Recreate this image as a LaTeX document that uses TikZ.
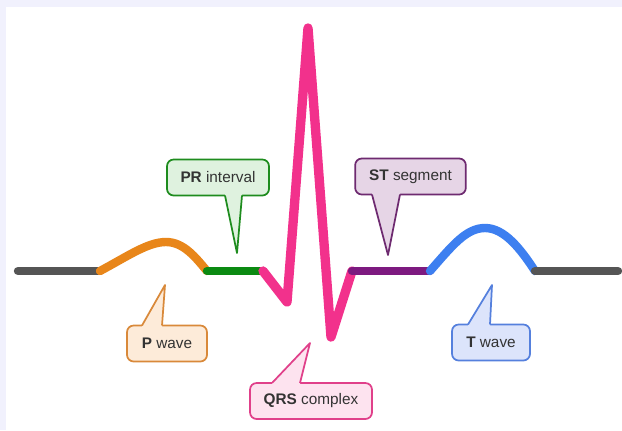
\documentclass[tikz,border=0pt]{standalone}
\usepackage{fontspec}
\setmainfont{Liberation Sans}
\usetikzlibrary{calc}

\definecolor{frame}{HTML}{F1F1FD}
\definecolor{flat}{HTML}{555555}
\definecolor{pcol}{HTML}{E8861A}
\definecolor{prcol}{HTML}{0B8A12}
\definecolor{qrscol}{HTML}{F2318C}
\definecolor{stcol}{HTML}{7D1A80}
\definecolor{tcol}{HTML}{3D7FF0}
\definecolor{prline}{HTML}{1E8C1E}
\definecolor{prfill}{HTML}{DFF2DF}
\definecolor{stline}{HTML}{6E2A70}
\definecolor{stfill}{HTML}{E6D5E6}
\definecolor{pline}{HTML}{D9893A}
\definecolor{pfill}{HTML}{FDEBD9}
\definecolor{tline}{HTML}{5580DD}
\definecolor{tfill}{HTML}{DCE4FB}
\definecolor{qrsline}{HTML}{E0408A}
\definecolor{qrsfill}{HTML}{FDE3EF}
\definecolor{txt}{HTML}{333333}

\begin{document}
\begin{tikzpicture}[x=0.75pt,y=-0.75pt,
    trace/.style={line width=6.3pt,line cap=round,line join=round},
    bubble/.style={draw,line width=1.3pt,rounded corners=5pt,outer sep=0pt,
      minimum height=27pt,inner sep=0pt,text=txt,
      font=\fontsize{11.5}{14}\selectfont},
    tip/.style={line width=1.3pt,line join=round}]
  \useasboundingbox (0,0) rectangle (622,430);
  \fill[frame] (0,0) rectangle (622,430);
  \fill[white] (6,7) rectangle (622,430);

  % baseline and waves
  \draw[trace,flat] (18,271) -- (100,271);
  \draw[trace,pcol] (100,271) .. controls (128,256) and (148,242) .. (166,242)
    .. controls (184,242) and (196,258) .. (207,271);
  \draw[trace,prcol] (207,271) -- (263,271);
  \draw[trace,qrscol,line width=7pt] (263,271) -- (287,302) -- (308,28)
    -- (331,337) -- (352,271);
  \draw[trace,stcol] (352,271) -- (430,271);
  \draw[trace,tcol] (430,271) .. controls (452,246) and (466,228) .. (485,228)
    .. controls (504,228) and (520,248) .. (535,271);
  \draw[trace,flat] (535,271) -- (618,271);

  % labels
  \node[bubble,draw=prline,fill=prfill,minimum width=76.5pt] (pr) at (218,177.5)
    {\textbf{PR} interval};
  \node[bubble,draw=stline,fill=stfill,minimum width=83pt] (st) at (410.5,176.5)
    {\textbf{ST} segment};
  \node[bubble,draw=pline,fill=pfill,minimum width=60pt] (p) at (167,343.5)
    {\textbf{P} wave};
  \node[bubble,draw=tline,fill=tfill,minimum width=58.5pt] (t) at (491,342.5)
    {\textbf{T} wave};
  \node[bubble,draw=qrsline,fill=qrsfill,minimum width=91.5pt] (qrs) at (311,401)
    {\textbf{QRS} complex};

  \coordinate (prtip) at (237,253);
  \coordinate (sttip) at (388,255);
  \coordinate (ptip) at (165,285);
  \coordinate (ttip) at (492,285);
  \coordinate (qrstip) at (310,343);

  % pointers
  \fill[prfill] ($(225,0 |- pr.south)+(0,-4)$) -- (225,0 |- pr.south) -- (prtip)
    -- (242,0 |- pr.south) -- ($(242,0 |- pr.south)+(0,-4)$) -- cycle;
  \draw[tip,prline] (225,0 |- pr.south) -- (prtip) -- (242,0 |- pr.south);
  \fill[stfill] ($(372,0 |- st.south)+(0,-4)$) -- (372,0 |- st.south) -- (sttip)
    -- (400,0 |- st.south) -- ($(400,0 |- st.south)+(0,-4)$) -- cycle;
  \draw[tip,stline] (372,0 |- st.south) -- (sttip) -- (400,0 |- st.south);
  \fill[pfill] ($(142,0 |- p.north)+(0,4)$) -- (142,0 |- p.north) -- (ptip)
    -- (162,0 |- p.north) -- ($(162,0 |- p.north)+(0,4)$) -- cycle;
  \draw[tip,pline] (142,0 |- p.north) -- (ptip) -- (162,0 |- p.north);
  \fill[tfill] ($(468,0 |- t.north)+(0,4)$) -- (468,0 |- t.north) -- (ttip)
    -- (490,0 |- t.north) -- ($(490,0 |- t.north)+(0,4)$) -- cycle;
  \draw[tip,tline] (468,0 |- t.north) -- (ttip) -- (490,0 |- t.north);
  \fill[qrsfill] ($(272,0 |- qrs.north)+(0,4)$) -- (272,0 |- qrs.north) -- (qrstip)
    -- (300,0 |- qrs.north) -- ($(300,0 |- qrs.north)+(0,4)$) -- cycle;
  \draw[tip,qrsline] (272,0 |- qrs.north) -- (qrstip) -- (300,0 |- qrs.north);
\end{tikzpicture}
\end{document}
